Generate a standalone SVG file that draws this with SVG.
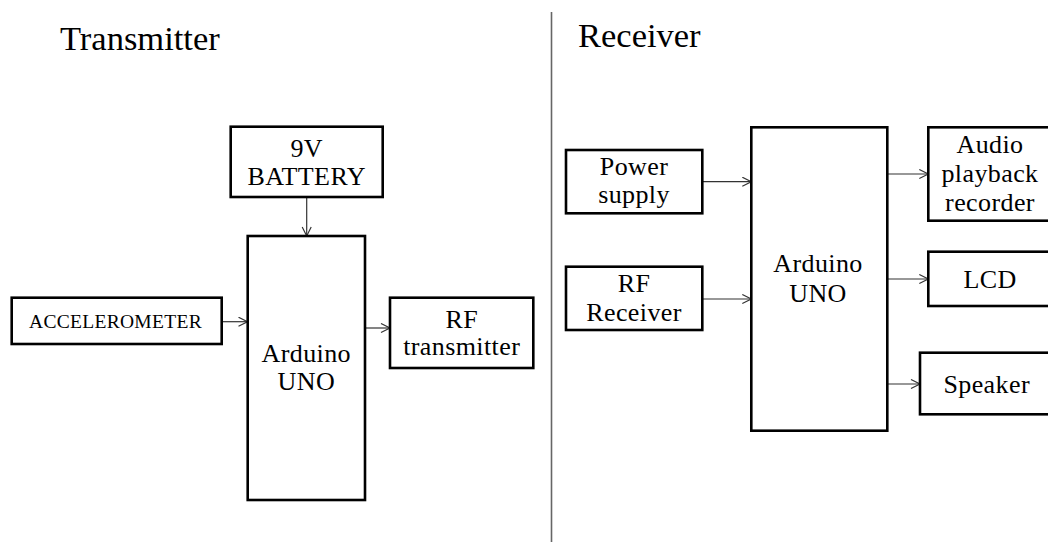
<svg xmlns="http://www.w3.org/2000/svg" width="1048" height="542" viewBox="0 0 1048 542">
<defs>
<style>
.box{fill:#fff;stroke:#000;stroke-width:2.6}
.t{font-family:"Liberation Serif","Times New Roman",serif;font-size:26px;fill:#000;text-anchor:middle;letter-spacing:0.4px}
.title{font-family:"Liberation Serif","Times New Roman",serif;font-size:34.5px;fill:#000}
.c{stroke:#333;stroke-width:1.2;fill:none;marker-end:url(#ah)}
</style>
<marker id="ah" markerUnits="userSpaceOnUse" markerWidth="12" markerHeight="12" refX="10" refY="5" orient="auto">
<path d="M1,0.5 L10,5 L1,9.5" fill="none" stroke="#333" stroke-width="1.2"/>
</marker>
</defs>
<rect width="1048" height="542" fill="#fff"/>
<line x1="551.5" y1="12" x2="551.5" y2="542" stroke="#666" stroke-width="1.6"/>
<text class="title" x="60" y="50">Transmitter</text>
<text class="title" x="578" y="47">Receiver</text>

<g id="connectors">
<line class="c" x1="306.7" y1="197" x2="306.7" y2="236"/>
<line class="c" x1="222" y1="321.7" x2="247.5" y2="321.7"/>
<line class="c" x1="365" y1="328" x2="390" y2="328"/>
<line class="c" x1="702" y1="181.7" x2="751.3" y2="181.7"/>
<line class="c" x1="702" y1="299" x2="751.3" y2="299"/>
<line class="c" x1="887.3" y1="174" x2="928.3" y2="174"/>
<line class="c" x1="887.3" y1="279" x2="928.3" y2="279"/>
<line class="c" x1="887.3" y1="384" x2="920" y2="384"/>
</g>

<g id="battery">
<rect class="box" x="230.7" y="126.7" width="152" height="70.3"/>
<text class="t" x="306.7" y="156.7">9V</text>
<text class="t" x="306.7" y="185">BATTERY</text>
</g>
<g id="arduino-tx">
<rect class="box" x="247.7" y="236" width="117.3" height="264"/>
<text class="t" x="306.3" y="361.7">Arduino</text>
<text class="t" x="306.3" y="390">UNO</text>
</g>
<g id="accelerometer">
<rect class="box" x="11.7" y="297.7" width="210" height="46.3"/>
<text class="t" x="115.5" y="327.7" style="font-size:19.5px;letter-spacing:0.3px">ACCELEROMETER</text>
</g>
<g id="rf-transmitter">
<rect class="box" x="390" y="297.7" width="143.3" height="70.3"/>
<text class="t" x="461.7" y="328">RF</text>
<text class="t" x="461.7" y="355">transmitter</text>
</g>

<g id="power-supply">
<rect class="box" x="566" y="150" width="136.3" height="63.3"/>
<text class="t" x="634" y="175">Power</text>
<text class="t" x="634" y="203">supply</text>
</g>
<g id="rf-receiver">
<rect class="box" x="566" y="266.7" width="136.3" height="63.3"/>
<text class="t" x="634" y="291.7">RF</text>
<text class="t" x="634" y="320.7">Receiver</text>
</g>
<g id="arduino-rx">
<rect class="box" x="751.3" y="127.3" width="136" height="303.4"/>
<text class="t" x="818" y="272.3">Arduino</text>
<text class="t" x="818" y="301.7">UNO</text>
</g>
<g id="audio">
<rect class="box" x="928.3" y="127.3" width="130" height="93.4"/>
<text class="t" x="990" y="152.7">Audio</text>
<text class="t" x="990" y="181.7">playback</text>
<text class="t" x="990" y="211">recorder</text>
</g>
<g id="lcd">
<rect class="box" x="928.3" y="251.7" width="130" height="54.3"/>
<text class="t" x="990" y="287.7">LCD</text>
</g>
<g id="speaker">
<rect class="box" x="920" y="352.7" width="140" height="61.6"/>
<text class="t" x="986.7" y="392.7">Speaker</text>
</g>
</svg>
